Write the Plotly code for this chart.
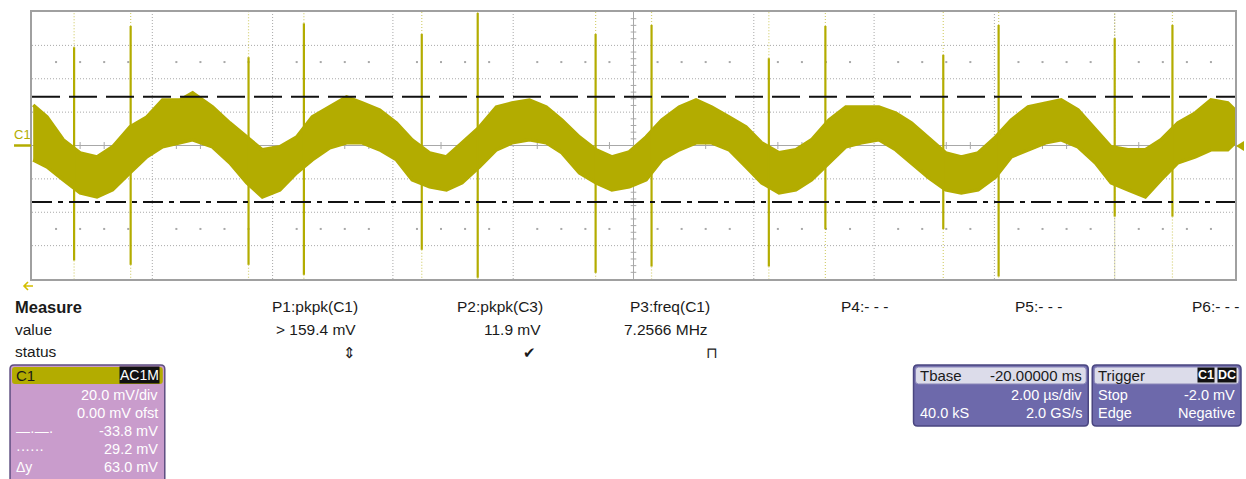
import plotly.graph_objects as go

# ---------------- data ----------------
# time in microseconds (2.00 us/div, 10 div), voltage in mV (20 mV/div, 8 div)
t_env = [0.02, 0.25, 0.52, 0.80, 1.08, 1.34, 1.63, 1.91, 2.17, 2.46, 2.67, 3.00,
         3.29, 3.57, 3.83, 4.12, 4.40, 4.66, 4.95, 5.23, 5.49, 5.78, 6.06, 6.32,
         6.61, 6.89, 7.15, 7.44, 7.72, 7.98, 8.27, 8.55, 8.81, 9.10, 9.38, 9.64,
         9.93, 10.21, 10.47, 10.76, 11.04, 11.30, 11.59, 11.87, 12.13, 12.42,
         12.70, 12.96, 13.25, 13.53, 13.79, 14.08, 14.36, 14.62, 14.91, 15.19,
         15.45, 15.73, 16.02, 16.28, 16.56, 16.85, 17.11, 17.39, 17.68, 17.94,
         18.22, 18.51, 18.77, 19.05, 19.34, 19.60, 19.88, 20.0]
upper_mv = [24.3, 17.1, 3.4, -4.4, -6.8, -0.8, 11.1, 17.1, 27.3, 27.3, 31.5, 23.1,
            13.5, 5.1, -2.6, -0.8, 5.1, 17.1, 23.1, 29.1, 25.5, 21.3, 13.5, 3.4,
            -4.4, -6.8, 1.6, 11.1, 23.1, 25.5, 27.3, 23.1, 15.3, 5.1, -2.6, -6.8,
            -3.8, 5.1, 15.3, 23.1, 27.3, 23.1, 17.1, 11.1, 1.6, -4.4,
            -2.6, 3.4, 15.3, 23.1, 23.1, 23.1, 19.5, 13.5, 4.5, -4.4,
            -6.8, -4.4, 5.1, 15.3, 23.1, 25.5, 27.3, 21.3, 9.3, -0.8,
            -2.6, -2.6, 3.4, 13.5, 19.5, 27.3, 25.5, 21.3]
lower_mv = [-8.6, -12.8, -20.6, -28.4, -30.8, -26.6, -16.4, -6.8, -0.8, 1.6, 3.4, -0.8,
            -10.4, -22.4, -30.8, -26.6, -16.4, -8.6, -1.4, 1.6, 1.6, -2.6, -8.6, -20.6,
            -24.8, -26.6, -22.4, -12.8, -2.6, 1.6, 3.4, 1.6, -4.4, -16.4, -22.4, -26.6,
            -24.8, -20.6, -8.6, -2.6, 1.6, 1.6, -2.6, -12.8, -22.4, -28.4,
            -26.6, -20.6, -10.4, -0.8, 1.6, 3.4, -2.6, -10.4, -19.4, -26.6,
            -28.4, -26.6, -18.8, -6.8, -2.6, 1.6, 3.4, -0.8, -10.4, -22.4,
            -26.6, -30.8, -20.6, -10.4, -6.8, -2.6, -2.6, 1.6]

spike_t = [0.70, 1.64, 3.60, 4.52, 6.48, 7.41, 9.37, 10.30, 12.25, 13.19,
           15.15, 16.07, 18.00, 18.96]
spike_top = [58.9, 71.6, 52.9, 73.2, 66.8, 79.4, 66.8, 72.2, 52.3, 71.6,
             54.3, 72.2, 64.3, 72.2]
spike_bot = [-68.9, -71.5, -71.5, -77.5, -62.5, -79.3, -76.3, -72.5, -72.5, -50.1,
             -50.1, -78.5, -42.6, -42.6]

cursor_upper_mv = 29.2
cursor_lower_mv = -33.8

measure_heads = ["P1:pkpk(C1)", "P2:pkpk(C3)", "P3:freq(C1)", "P4:- - -", "P5:- - -", "P6:- - -"]
measure_values = ["> 159.4 mV", "11.9 mV", "7.2566 MHz", "", "", ""]
measure_status = ["⇕", "✔", "⊓", "", "", ""]

ch_rows = [("", "20.0 mV/div"), ("", "0.00 mV ofst"), ("—·—·", "-33.8 mV"),
           ("······", "29.2 mV"), ("Δy", "63.0 mV")]

# ---------------- geometry ----------------
W, H = 1246, 479
L, R, T, B = 32, 9, 12, 200
PW, PH = W - L - R, H - T - B
TRACE = "#b3ac00"
GRID = "#a8a8a8"
FONT = "Liberation Sans, Arial, sans-serif"


def px(x):
    return (x - L) / PW


def py(y):
    return (H - B - y) / PH


fig = go.Figure()

# minor dot rows and centre ticks (graticule decoration)
dots_x = [i * 0.4 for i in range(1, 50) if i % 5 != 0]
fig.add_trace(go.Scatter(x=dots_x * 2, y=[50] * len(dots_x) + [-50] * len(dots_x),
                         mode="markers", marker=dict(symbol="square", size=2, color=GRID),
                         hoverinfo="skip", showlegend=False))
fig.add_trace(go.Scatter(x=dots_x, y=[0] * len(dots_x), mode="markers",
                         marker=dict(symbol="line-ns", size=5, line=dict(width=1, color=GRID)),
                         hoverinfo="skip", showlegend=False))
dots_y = [j * 4 for j in range(-19, 20) if j % 5 != 0]
fig.add_trace(go.Scatter(x=[10] * len(dots_y), y=dots_y, mode="markers",
                         marker=dict(symbol="line-ew", size=4, line=dict(width=1, color=GRID)),
                         hoverinfo="skip", showlegend=False))

# faint spike extensions
ext_x, ext_y = [], []
for t, top, bot in zip(spike_t, spike_top, spike_bot):
    ext_x += [t, t, None, t, t, None]
    ext_y += [top, 80, None, bot, -80, None]
fig.add_trace(go.Scatter(x=ext_x, y=ext_y, mode="lines",
                         line=dict(color=TRACE, width=1.2, dash="1px,2px"),
                         opacity=0.55, hoverinfo="skip", showlegend=False))

# waveform band (edges drawn thick to render the noise fuzz)
fig.add_trace(go.Scatter(x=t_env, y=lower_mv, mode="lines",
                         line=dict(color=TRACE, width=3.5), hoverinfo="skip", showlegend=False))
fig.add_trace(go.Scatter(x=t_env, y=upper_mv, mode="lines", fill="tonexty",
                         fillcolor=TRACE, line=dict(color=TRACE, width=3.5),
                         hoverinfo="skip", showlegend=False))

# spikes
sx, sy = [], []
for t, top, bot in zip(spike_t, spike_top, spike_bot):
    sx += [t, t, None]
    sy += [bot, top, None]
fig.add_trace(go.Scatter(x=sx, y=sy, mode="lines", line=dict(color=TRACE, width=2.2),
                         hoverinfo="skip", showlegend=False))

shapes = []
# graticule
for k in range(1, 10):
    x = k * 2
    shapes.append(dict(type="line", xref="x", yref="y", x0=x, x1=x, y0=-80, y1=80,
                       line=dict(color=GRID, width=1, dash=None if k == 5 else "1px,2px"),
                       layer="below"))
for k in range(-3, 4):
    y = k * 20
    shapes.append(dict(type="line", xref="x", yref="y", x0=0, x1=20, y0=y, y1=y,
                       line=dict(color=GRID, width=1, dash=None if k == 0 else "1px,2px"),
                       layer="below"))
# cursors
shapes.append(dict(type="line", xref="x", yref="y", x0=0, x1=20, y0=cursor_upper_mv,
                   y1=cursor_upper_mv, line=dict(color="#111111", width=2, dash="28px,9px")))
shapes.append(dict(type="line", xref="x", yref="y", x0=0, x1=20, y0=cursor_lower_mv,
                   y1=cursor_lower_mv, line=dict(color="#111111", width=2,
                                                 dash="20px,6px,5px,6px")))
# C1 ground marker + right trigger arrow
shapes.append(dict(type="line", xref="paper", yref="paper", x0=px(14), x1=px(31),
                   y0=py(145.5), y1=py(145.5), line=dict(color=TRACE, width=2.5)))
shapes.append(dict(type="path", xref="paper", yref="paper",
                   path=f"M {px(1238)} {py(146)} L {px(1246)} {py(141)} L {px(1246)} {py(151)} Z",
                   fillcolor=TRACE, line=dict(width=0)))
# left "off-screen" arrow under the grid
shapes.append(dict(type="path", xref="paper", yref="paper",
                   path=(f"M {px(33)} {py(286)} L {px(24)} {py(286)} "
                         f"M {px(28)} {py(282)} L {px(24)} {py(286)} L {px(28)} {py(290)}"),
                   line=dict(color="#d4bf00", width=1.6)))


def rrect(x0, y0, x1, y1, r, fill, line_color=None, lw=1):
    p = (f"M {px(x0 + r)} {py(y0)} L {px(x1 - r)} {py(y0)} Q {px(x1)} {py(y0)} {px(x1)} {py(y0 + r)} "
         f"L {px(x1)} {py(y1 - r)} Q {px(x1)} {py(y1)} {px(x1 - r)} {py(y1)} "
         f"L {px(x0 + r)} {py(y1)} Q {px(x0)} {py(y1)} {px(x0)} {py(y1 - r)} "
         f"L {px(x0)} {py(y0 + r)} Q {px(x0)} {py(y0)} {px(x0 + r)} {py(y0)} Z")
    return dict(type="path", xref="paper", yref="paper", path=p, fillcolor=fill,
                line=dict(color=line_color or fill, width=lw))


# C1 channel box
shapes.append(rrect(10, 365, 165, 484, 4, "#c99ccc", "#5e4e80", 1.5))
shapes.append(rrect(12, 367, 163, 384, 3, TRACE, TRACE, 0))
# Tbase box
shapes.append(rrect(915, 365, 1090, 426, 4, "#6d69ab", "#4a4680", 1.5))
shapes.append(rrect(917, 367, 1088, 384, 3, "#dcdcea", "#8a86b8", 1))
# Trigger box
shapes.append(rrect(1094, 365, 1243, 426, 4, "#6d69ab", "#4a4680", 1.5))
shapes.append(rrect(1096, 367, 1241, 384, 3, "#dcdcea", "#8a86b8", 1))

ann = []


def text(x, y, s, anchor="left", color="#1a1a1a", size=15, bold=False, bg=None):
    d = dict(x=px(x), y=py(y), xref="paper", yref="paper", text=f"<b>{s}</b>" if bold else s,
             showarrow=False, xanchor=anchor, yanchor="middle",
             font=dict(family=FONT, size=size, color=color))
    if bg:
        d.update(bgcolor=bg, borderpad=0)
    ann.append(d)


text(12, 134, "C1", color=TRACE, size=13)

# measure table
text(13, 306.5, "Measure", bold=True, size=16.5)
text(13, 329, "value", size=15.5)
text(13, 351.5, "status", size=15.5)
head_right = [361, 546, 713, 891, 1066, 1243]
for i in range(6):
    text(head_right[i], 306.5, measure_heads[i], anchor="right", size=15.5)
    if measure_values[i]:
        text(head_right[i] - 2, 329, measure_values[i], anchor="right", size=15.5)
status_x = [350, 530, 713]
for i in range(3):
    text(status_x[i], 352, measure_status[i], anchor="center", size=15)

# C1 box text
text(14, 375.5, "C1", color="#1a1a1a", size=15)
text(160, 375.5, "AC1M", anchor="right", color="#ffffff", size=14, bg="#111111")
row_y = [395, 413, 431, 449, 467]
for (lab, val), y in zip(ch_rows, row_y):
    if lab:
        text(14, y, lab, color="#ffffff", size=14)
    text(160, y, val, anchor="right", color="#ffffff", size=14.5)

# Tbase box text
text(919, 375.5, "Tbase", size=15)
text(1086, 375.5, "-20.00000 ms", anchor="right", size=15)
text(1086, 395, "2.00 µs/div", anchor="right", color="#ffffff", size=14.5)
text(919, 413, "40.0 kS", color="#ffffff", size=14.5)
text(1086, 413, "2.0 GS/s", anchor="right", color="#ffffff", size=14.5)
# Trigger box text
text(1098, 375.5, "Trigger", size=15)
text(1217, 375.5, "C1", anchor="right", color="#ffffff", size=12.5, bold=True, bg="#111111")
text(1239, 375.5, "DC", anchor="right", color="#ffffff", size=12.5, bold=True, bg="#111111")
text(1098, 395, "Stop", color="#ffffff", size=14.5)
text(1239, 395, "-2.0 mV", anchor="right", color="#ffffff", size=14.5)
text(1098, 413, "Edge", color="#ffffff", size=14.5)
text(1239, 413, "Negative", anchor="right", color="#ffffff", size=14.5)

fig.update_layout(
    width=W, height=H, margin=dict(l=L, r=R, t=T, b=B, pad=0),
    paper_bgcolor="#ffffff", plot_bgcolor="#ffffff",
    shapes=shapes, annotations=ann, showlegend=False,
    xaxis=dict(range=[0, 20], showgrid=False, zeroline=False, showticklabels=False,
               ticks="", showline=True, mirror=True, linecolor="#a0a0a0", linewidth=1.5,
               fixedrange=True),
    yaxis=dict(range=[-80, 80], showgrid=False, zeroline=False, showticklabels=False,
               ticks="", showline=True, mirror=True, linecolor="#a0a0a0", linewidth=1.5,
               fixedrange=True),
)
fig.write_html("out.html", config={"displayModeBar": False})
